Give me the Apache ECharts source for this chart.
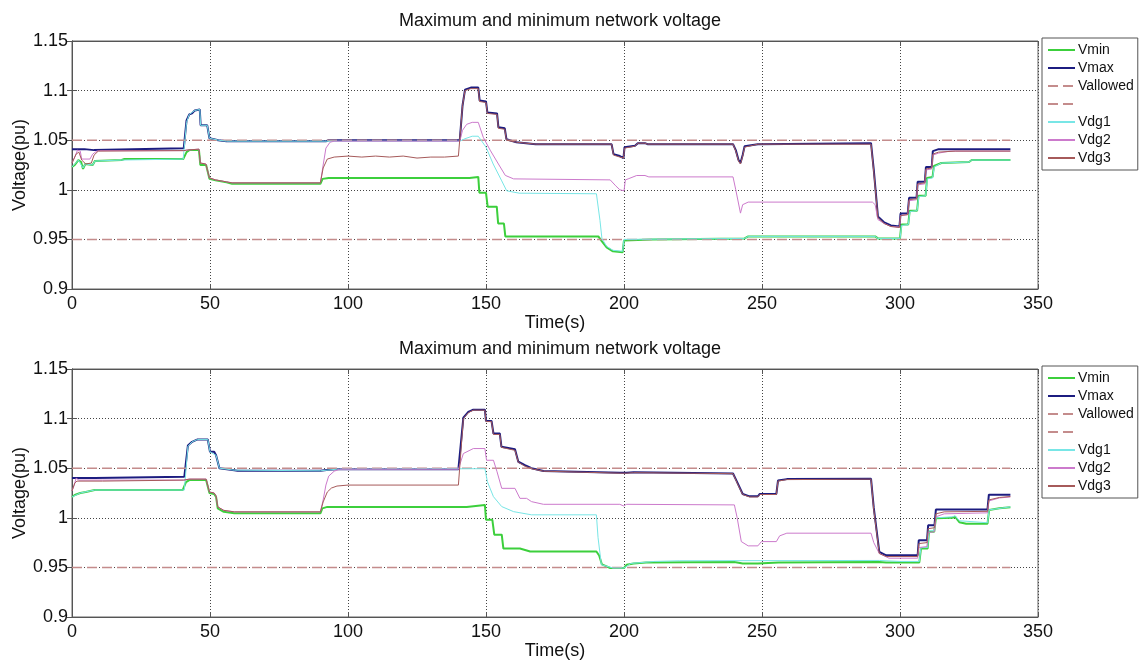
<!DOCTYPE html>
<html>
<head>
<meta charset="utf-8">
<script src="https://cdn.jsdelivr.net/npm/echarts@6/dist/echarts.min.js"></script>
<style>
  html, body { margin: 0; padding: 0; background: #fff; }
  #chart { width: 1141px; height: 660px; }
</style>
</head>
<body>
<div id="chart"></div>
<script>
// data, [time, voltage]
// --- top plot ---
const vminTop = [[0,1.023],[1,1.025],[2.3,1.030],[3.3,1.028],[4,1.021],[4.8,1.026],[5.5,1.025],[7.5,1.025],[8.3,1.029],[18,1.030],[19,1.031],[40.3,1.031],[41.5,1.038],[42.5,1.040],[46,1.040],[46.5,1.025],[48.6,1.025],[49.8,1.011],[52,1.0095],[56,1.0075],[58,1.006],[90,1.006],[90.8,1.011],[93,1.012],[144,1.012],[144.5,1.013],[147.2,1.013],[147.6,0.997],[150,0.997],[150.6,0.983],[153.9,0.983],[154.4,0.966],[156.5,0.966],[157,0.953],[190.7,0.953],[192,0.948],[193.7,0.942],[196,0.938],[199.5,0.937],[200,0.949],[210,0.950],[243.7,0.951],[245,0.953],[291,0.953],[292,0.951],[300,0.951],[300.5,0.965],[303,0.965],[303.5,0.979],[306.2,0.979],[306.7,0.994],[309.3,0.994],[309.8,1.012],[311.8,1.013],[312.3,1.024],[315,1.027],[325,1.028],[326,1.030],[340,1.030]];
const vmaxTop = [[0,1.041],[4.5,1.041],[5,1.040],[8,1.040],[8.5,1.042],[40.5,1.042],[41.5,1.070],[42.5,1.076],[43.5,1.077],[44.5,1.080],[46.3,1.081],[46.6,1.065],[49,1.065],[49.8,1.052],[53,1.050],[56,1.049],[92,1.049],[93,1.050],[140.5,1.050],[141.5,1.085],[142.4,1.101],[144.5,1.103],[145,1.101],[145.5,1.103],[147.2,1.103],[147.7,1.090],[150,1.089],[150.5,1.078],[154,1.077],[154.5,1.063],[156.8,1.062],[157.4,1.051],[161,1.048],[168,1.046],[195.5,1.046],[196.2,1.036],[198.5,1.034],[199.8,1.032],[200.2,1.043],[204,1.0445],[205,1.047],[207.6,1.047],[208.5,1.046],[239.5,1.046],[240.5,1.040],[241.5,1.030],[242.2,1.027],[243,1.035],[243.7,1.044],[248.5,1.046],[289.5,1.047],[290.5,1.020],[292,0.973],[294.3,0.967],[296.7,0.964],[299.8,0.963],[300.2,0.976],[302.8,0.976],[303.3,0.992],[306,0.992],[306.4,1.008],[309,1.008],[309.4,1.023],[311.5,1.023],[311.9,1.039],[314,1.041],[340,1.041]];
const vdg1Top = [[0,1.023],[2.3,1.030],[4,1.022],[4.8,1.026],[7.5,1.025],[8.3,1.029],[18,1.030],[40.3,1.031],[41.5,1.068],[42.5,1.076],[44.5,1.080],[46.3,1.081],[46.6,1.065],[49,1.065],[49.8,1.052],[53,1.050],[56,1.049],[140.5,1.049],[142.4,1.0515],[145,1.054],[147.2,1.054],[150,1.043],[152.6,1.026],[155.7,1.009],[157.5,0.999],[162,0.9966],[190,0.996],[191.3,0.969],[192,0.951],[193.7,0.943],[196,0.939],[199.5,0.938],[200,0.950],[243.7,0.951],[245,0.953],[291,0.953],[292,0.951],[300,0.951],[300.6,0.964],[303,0.965],[303.6,0.978],[306.2,0.979],[306.8,0.993],[309.3,0.994],[309.9,1.011],[311.8,1.012],[312.4,1.023],[315,1.027],[325,1.028],[326,1.030],[340,1.030]];
const vdg2Top = [[0,1.027],[1,1.033],[2,1.040],[3,1.039],[3.5,1.031],[6.5,1.031],[7.5,1.036],[9,1.039],[10,1.0395],[40.5,1.0395],[41.5,1.040],[46,1.041],[46.5,1.027],[48.5,1.026],[49.8,1.012],[52,1.010],[56,1.008],[58,1.007],[90,1.007],[91,1.025],[92,1.042],[93.5,1.048],[95,1.049],[140.5,1.049],[141.5,1.060],[143,1.066],[145,1.068],[147.2,1.068],[149,1.053],[151.5,1.040],[154.5,1.026],[157,1.0145],[160,1.011],[195,1.010],[197,1.004],[198.5,1.000],[200,0.999],[200.5,1.010],[201.5,1.011],[204.6,1.0144],[207.6,1.0144],[209,1.013],[239.5,1.013],[240.5,1.000],[242.2,0.9765],[243,0.985],[245,0.9876],[290,0.9876],[291,0.985],[292,0.970],[294.3,0.966],[296.7,0.963],[299.8,0.9625],[300.2,0.974],[302.8,0.975],[303.3,0.989],[306,0.990],[306.4,1.005],[309,1.006],[309.4,1.020],[311.5,1.021],[311.9,1.035],[314,1.037],[318,1.039],[340,1.039]];
const vdg3Top = [[0,1.027],[1.5,1.036],[2.5,1.038],[3.5,1.030],[5,1.026],[7,1.027],[8,1.035],[9.5,1.039],[40.5,1.0395],[41.5,1.040],[46,1.041],[46.5,1.027],[48.5,1.026],[49.8,1.012],[52,1.010],[56,1.008],[58,1.007],[90,1.007],[91,1.022],[92.5,1.031],[95,1.033],[100,1.034],[105,1.033],[110,1.034],[115,1.033],[120,1.034],[125,1.032],[130,1.033],[135,1.033],[140,1.034],[140.5,1.035],[141.5,1.085],[142.4,1.100],[144.5,1.102],[147.2,1.102],[147.7,1.089],[150,1.088],[150.5,1.077],[154,1.076],[154.5,1.062],[156.8,1.061],[157.4,1.050],[161,1.048],[168,1.046],[195.5,1.046],[196.2,1.035],[198.5,1.033],[199.8,1.032],[200.2,1.042],[204,1.044],[205,1.047],[207.6,1.047],[208.5,1.046],[239.5,1.046],[240.5,1.039],[241.5,1.029],[242.2,1.026],[243,1.034],[243.7,1.043],[248.5,1.046],[289.5,1.046],[290.5,1.018],[292,0.972],[294.3,0.966],[296.7,0.963],[299.8,0.962],[300.2,0.974],[302.8,0.975],[303.3,0.990],[306,0.991],[306.4,1.006],[309,1.007],[309.4,1.021],[311.5,1.022],[311.9,1.036],[314,1.038],[320,1.039],[340,1.039]];

// --- bottom plot ---
const vminBot = [[0,1.021],[1,1.023],[3,1.025],[5,1.026],[8.2,1.028],[40.1,1.028],[41.3,1.036],[42.5,1.038],[48.6,1.038],[49.8,1.025],[51.5,1.024],[52.2,1.021],[52.8,1.0095],[55,1.006],[58.8,1.0045],[90,1.0045],[90.7,1.0095],[92.5,1.011],[143,1.011],[143.6,1.013],[149.6,1.013],[150,0.998],[152.3,0.998],[153,0.983],[155.7,0.983],[156.3,0.969],[162.3,0.969],[166,0.966],[190,0.966],[191,0.962],[192,0.953],[195,0.9494],[200,0.9494],[201,0.9527],[203.5,0.954],[208,0.955],[240,0.9555],[243,0.954],[248.5,0.954],[256,0.955],[292.5,0.9555],[295,0.955],[307,0.955],[307.6,0.969],[310,0.969],[310.5,0.986],[312.4,0.986],[313,0.9995],[319,1.000],[320,1.001],[321.5,0.9955],[324,0.994],[331.7,0.994],[332.3,1.0078],[336,1.0096],[340,1.0106]];
const vmaxBot = [[0,1.040],[8.2,1.040],[8.8,1.0414],[40.7,1.0414],[42,1.073],[43.5,1.0766],[45.5,1.079],[49.2,1.079],[50,1.0665],[51.5,1.0665],[52.2,1.063],[53.4,1.050],[58.8,1.048],[60,1.0474],[90,1.0474],[93,1.0485],[96,1.049],[140,1.049],[141.8,1.101],[143.6,1.1067],[145.4,1.109],[149.6,1.109],[150,1.0977],[152,1.0977],[152.7,1.085],[155,1.085],[155.6,1.0716],[160.5,1.069],[161.7,1.0565],[162.3,1.0565],[164.1,1.053],[166.5,1.050],[170.8,1.0471],[198.5,1.0454],[201,1.0454],[203.5,1.046],[239.5,1.0447],[241,1.036],[243,1.024],[245.5,1.0216],[248.5,1.0216],[249.2,1.024],[255.2,1.024],[255.8,1.0375],[259,1.039],[289.5,1.0393],[290.5,1.010],[292.5,0.9657],[295,0.9622],[306.4,0.9622],[306.8,0.9773],[309.8,0.9773],[310.2,0.9924],[312.5,0.9924],[313,1.0083],[331.7,1.0083],[332.2,1.0233],[340,1.0233]];
const vdg1Bot = [[0,1.021],[3,1.025],[8.2,1.028],[40.7,1.028],[42,1.072],[43.5,1.0766],[45.5,1.079],[49.2,1.079],[50,1.0665],[52.2,1.063],[53.4,1.050],[58.8,1.048],[90,1.0474],[96,1.049],[149.6,1.0495],[150,1.044],[150.5,1.0364],[152.7,1.0213],[155.7,1.0113],[160,1.0062],[166.5,1.003],[190,1.003],[190.6,0.980],[191.8,0.9527],[196,0.9494],[200,0.9494],[202.5,0.954],[211,0.956],[220,0.9567],[292.5,0.957],[300,0.956],[307,0.956],[307.6,0.970],[310,0.970],[310.5,0.987],[312.4,0.987],[313,1.000],[319,1.001],[320,1.002],[321.5,0.997],[331.7,0.995],[332.3,1.008],[340,1.011]];
const vdg2Bot = [[0,1.027],[0.8,1.033],[1.5,1.040],[2.5,1.038],[11,1.038],[40.5,1.038],[42.5,1.039],[48.6,1.039],[49.8,1.026],[51.5,1.025],[52.2,1.022],[52.8,1.011],[55,1.0075],[58.8,1.006],[90,1.006],[91,1.018],[92,1.033],[93,1.042],[95,1.047],[97,1.049],[140,1.049],[141.8,1.0648],[145.4,1.0698],[149.6,1.0698],[150.2,1.058],[152.7,1.058],[154,1.0464],[155.7,1.0297],[160.5,1.0297],[162.3,1.0196],[164.7,1.0196],[166.5,1.0163],[170.8,1.0136],[198.5,1.0136],[199.8,1.012],[201,1.0136],[240,1.013],[241,1.000],[242.5,0.976],[245,0.9717],[248.5,0.9717],[249.8,0.976],[255.2,0.976],[256.4,0.9818],[259,0.9845],[289.5,0.9845],[290.5,0.975],[292.5,0.964],[296,0.9593],[306.4,0.9593],[306.8,0.970],[309.8,0.971],[310.2,0.985],[312.5,0.986],[313,1.001],[316,1.004],[331.7,1.005],[332.2,1.017],[336,1.020],[340,1.021]];
const vdg3Bot = [[0,1.027],[1,1.035],[1.8,1.037],[11,1.037],[40.5,1.038],[42.5,1.039],[48.6,1.039],[49.8,1.026],[51.5,1.025],[52.2,1.022],[52.8,1.011],[55,1.0075],[58.8,1.006],[90,1.006],[91,1.016],[92.5,1.026],[94,1.030],[96,1.032],[100,1.033],[140,1.033],[141.8,1.100],[143.6,1.106],[145.4,1.1085],[149.6,1.1085],[150,1.097],[152,1.097],[152.7,1.084],[155,1.084],[155.6,1.071],[160.5,1.068],[161.7,1.056],[162.3,1.056],[164.1,1.052],[166.5,1.0495],[170.8,1.047],[198.5,1.045],[201,1.045],[203.5,1.0455],[239.5,1.0445],[241,1.035],[243,1.0235],[245.5,1.021],[248.5,1.021],[249.2,1.0235],[255.2,1.0235],[255.8,1.037],[259,1.0385],[289.5,1.039],[290.5,1.008],[292.5,0.964],[295,0.961],[306.4,0.961],[306.8,0.974],[309.8,0.975],[310.2,0.989],[312.5,0.990],[313,1.004],[316,1.006],[331.7,1.0065],[332.2,1.018],[336,1.0205],[340,1.0215]];

// allowed voltage band
const allowedTime = [0, 340];
const vUpper = [1.05, 1.05];
const vLower = [0.95, 0.95];

const legendNames = ['Vmin', 'Vmax', 'Vallowed', ' ', 'Vdg1', 'Vdg2', 'Vdg3'];
const plotTitle = 'Maximum and minimum network voltage';

const FONT = '"Liberation Sans", Arial, Helvetica, sans-serif';
const colors = {
    Vmin: '#3ccf3c',
    Vmax: '#1c1c80',
    Vallowed: '#c48c8c',
    Vdg1: '#78e6e6',
    Vdg2: '#cc7acc',
    Vdg3: '#a65a5a'
};

const chart = echarts.init(document.getElementById('chart'));

const left = 72, right = 103, plotH = 248;
const tops = [41, 369];

function band(vals) {
    return allowedTime.map((t, i) => [t, vals[i]]);
}

function makeSeries(idx, vmin, vmax, d1, d2, d3) {
    const base = { type: 'line', xAxisIndex: idx * 2, yAxisIndex: idx * 2, symbol: 'none', silent: true };
    return [
        Object.assign({}, base, { name: 'Vmin', data: vmin, lineStyle: { color: colors.Vmin, width: 2 }, itemStyle: { color: colors.Vmin } }),
        Object.assign({}, base, { name: 'Vmax', data: vmax, lineStyle: { color: colors.Vmax, width: 2 }, itemStyle: { color: colors.Vmax } }),
        Object.assign({}, base, { name: 'Vallowed', data: band(vUpper), lineStyle: { color: colors.Vallowed, width: 1.5, type: [10, 5] }, itemStyle: { color: colors.Vallowed } }),
        Object.assign({}, base, { name: ' ', data: band(vLower), lineStyle: { color: colors.Vallowed, width: 1.5, type: [10, 5] }, itemStyle: { color: colors.Vallowed } }),
        Object.assign({}, base, { name: 'Vdg1', data: d1, lineStyle: { color: colors.Vdg1, width: 1 }, itemStyle: { color: colors.Vdg1 } }),
        Object.assign({}, base, { name: 'Vdg2', data: d2, lineStyle: { color: colors.Vdg2, width: 1 }, itemStyle: { color: colors.Vdg2 } }),
        Object.assign({}, base, { name: 'Vdg3', data: d3, lineStyle: { color: colors.Vdg3, width: 1 }, itemStyle: { color: colors.Vdg3 } })
    ];
}

const grids = [], xAxes = [], yAxes = [], titles = [], legends = [];
tops.forEach((top, i) => {
    grids.push({ left: left, right: right, top: top, height: plotH, show: true, borderColor: '#666', borderWidth: 1,
        backgroundColor: '#fff', outerBoundsMode: 'none', containLabel: false });
    titles.push({ text: plotTitle, left: 555, top: top - 34, textAlign: 'center',
        textStyle: { fontFamily: FONT, fontSize: 18, fontWeight: 'normal', color: '#111' } });
    legends.push({
        data: legendNames, orient: 'vertical', left: 1042, top: top - 3,
        padding: [5, 4, 5, 5], itemGap: 4, itemWidth: 27, itemHeight: 14,
        borderColor: '#555', borderWidth: 1, backgroundColor: '#fff',
        selectedMode: false,
        itemStyle: { opacity: 0 },
        textStyle: { fontFamily: FONT, fontSize: 14, color: '#111', padding: [0, 0, 0, -2] }
    });
    // main axes
    xAxes.push({
        type: 'value', gridIndex: i, min: 0, max: 350, interval: 50, position: 'bottom',
        name: 'Time(s)', nameLocation: 'middle', nameGap: 25,
        nameTextStyle: { fontFamily: FONT, fontSize: 18, color: '#111' },
        axisLine: { lineStyle: { color: '#555' } },
        axisTick: { inside: true, length: 5, lineStyle: { color: '#555' } },
        axisLabel: { fontFamily: FONT, fontSize: 18, color: '#111', margin: 6 },
        splitLine: { show: true, lineStyle: { color: '#444', type: [1, 2], width: 1 } }
    });
    // top ticks only
    xAxes.push({
        type: 'value', gridIndex: i, min: 0, max: 350, interval: 50, position: 'top',
        axisLine: { lineStyle: { color: '#555' } },
        axisTick: { inside: true, length: 5, lineStyle: { color: '#555' } },
        axisLabel: { show: false }, splitLine: { show: false }
    });
    yAxes.push({
        type: 'value', gridIndex: i, min: 0.9, max: 1.15, interval: 0.05, position: 'left',
        name: 'Voltage(pu)', nameLocation: 'middle', nameGap: 43, nameMoveOverlap: false,
        nameTextStyle: { fontFamily: FONT, fontSize: 18, color: '#111' },
        axisLine: { show: true, lineStyle: { color: '#555' } },
        axisTick: { show: true, inside: true, length: 5, lineStyle: { color: '#555' } },
        axisLabel: { fontFamily: FONT, fontSize: 18, color: '#111', margin: 4,
            formatter: v => String(Math.round(v * 100) / 100) },
        splitLine: { show: true, lineStyle: { color: '#444', type: [1, 2], width: 1 } }
    });
    // right ticks only
    yAxes.push({
        type: 'value', gridIndex: i, min: 0.9, max: 1.15, interval: 0.05, position: 'right',
        axisLine: { show: true, lineStyle: { color: '#555' } },
        axisTick: { show: true, inside: true, length: 5, lineStyle: { color: '#555' } },
        axisLabel: { show: false }, splitLine: { show: false }
    });
});

chart.setOption({
    animation: false,
    backgroundColor: '#fff',
    title: titles,
    legend: legends,
    grid: grids,
    xAxis: xAxes,
    yAxis: yAxes,
    series: [].concat(
        makeSeries(0, vminTop, vmaxTop, vdg1Top, vdg2Top, vdg3Top),
        makeSeries(1, vminBot, vmaxBot, vdg1Bot, vdg2Bot, vdg3Bot)
    )
});

window.addEventListener('resize', () => {
    chart.resize();
});
</script>
</body>
</html>
